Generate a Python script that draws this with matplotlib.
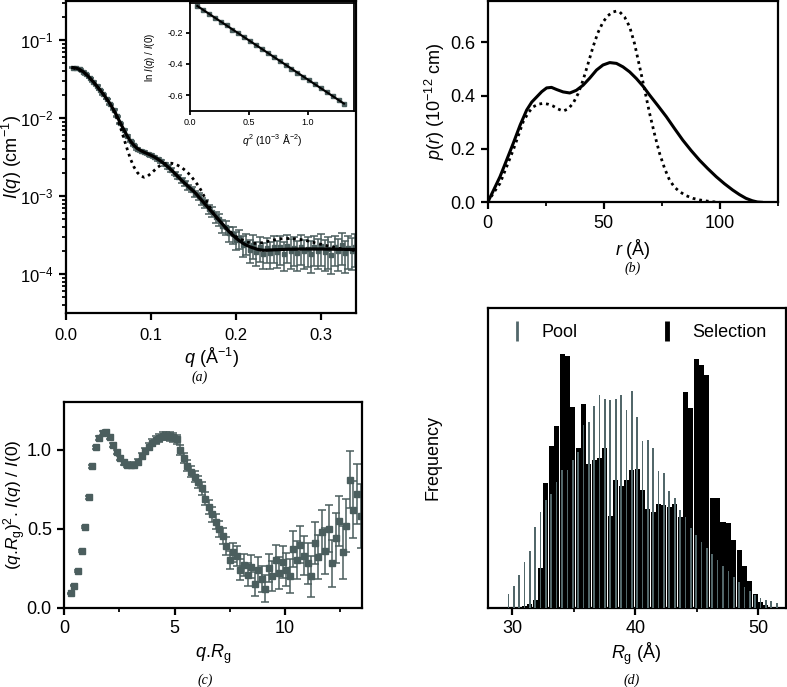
import numpy as np
import matplotlib
matplotlib.use('Agg')
import matplotlib.pyplot as plt
from matplotlib.lines import Line2D
from matplotlib.ticker import FixedLocator, NullLocator, FormatStrFormatter

plt.rcParams['font.family'] = ['Liberation Sans', 'DejaVu Sans']
plt.rcParams['mathtext.fontset'] = 'custom'
plt.rcParams['mathtext.rm'] = 'Liberation Sans'
plt.rcParams['mathtext.it'] = 'Liberation Sans:italic'
plt.rcParams['mathtext.bf'] = 'Liberation Sans:bold'
plt.rcParams['axes.unicode_minus'] = False

GRAY = '#4b5e5e'
GRAY_BAR = '#52676a'

# ---------------- Panel (a): scattering curve ----------------
a_q = [0.008, 0.012, 0.016, 0.020, 0.024, 0.028, 0.032, 0.036, 0.040, 0.044,
       0.048, 0.052, 0.056, 0.060, 0.064, 0.068, 0.072, 0.076, 0.080, 0.084,
       0.088, 0.092, 0.096, 0.100, 0.104, 0.108, 0.112, 0.116, 0.120, 0.124,
       0.128, 0.132, 0.136, 0.140, 0.144, 0.148, 0.152, 0.156, 0.160, 0.164,
       0.168, 0.172, 0.176, 0.180, 0.184, 0.188, 0.192, 0.196, 0.200, 0.204,
       0.208, 0.212, 0.216, 0.220, 0.224, 0.228, 0.232, 0.236, 0.240, 0.244,
       0.248, 0.252, 0.256, 0.260, 0.264, 0.268, 0.272, 0.276, 0.280, 0.284,
       0.288, 0.292, 0.296, 0.300, 0.304, 0.308, 0.312, 0.316, 0.320, 0.324,
       0.328, 0.332, 0.336, 0.340]
a_log10I = [-1.354, -1.362, -1.378, -1.405, -1.442, -1.486, -1.535, -1.587, -1.640, -1.697,
            -1.757, -1.822, -1.896, -1.978, -2.066, -2.150, -2.232, -2.300, -2.352, -2.392,
            -2.418, -2.440, -2.458, -2.478, -2.500, -2.528, -2.557, -2.592, -2.628, -2.668,
            -2.712, -2.752, -2.800, -2.838, -2.885, -2.918, -2.968, -3.005, -3.07, -3.10,
            -3.17, -3.20, -3.27, -3.30, -3.38, -3.40, -3.48, -3.49, -3.56, -3.54,
            -3.63, -3.60, -3.69, -3.63, -3.72, -3.66, -3.74, -3.67, -3.73, -3.65,
            -3.72, -3.66, -3.74, -3.64, -3.70, -3.67, -3.73, -3.65, -3.71, -3.68,
            -3.74, -3.66, -3.70, -3.64, -3.72, -3.68, -3.75, -3.66, -3.71, -3.63,
            -3.73, -3.67, -3.70, -3.65]
a_relerr = [0.01, 0.01, 0.01, 0.01, 0.01, 0.01, 0.01, 0.01, 0.012, 0.012,
            0.013, 0.014, 0.015, 0.016, 0.018, 0.02, 0.022, 0.024, 0.026, 0.028,
            0.03, 0.032, 0.034, 0.036, 0.038, 0.04, 0.042, 0.045, 0.048, 0.05,
            0.055, 0.06, 0.065, 0.07, 0.075, 0.08, 0.09, 0.10, 0.11, 0.12,
            0.13, 0.14, 0.16, 0.17, 0.19, 0.20, 0.22, 0.24, 0.26, 0.28,
            0.30, 0.30, 0.32, 0.33, 0.34, 0.35, 0.36, 0.36, 0.38, 0.38,
            0.38, 0.40, 0.40, 0.40, 0.42, 0.40, 0.42, 0.42, 0.40, 0.42,
            0.44, 0.42, 0.42, 0.44, 0.42, 0.44, 0.44, 0.42, 0.44, 0.45,
            0.44, 0.45, 0.44, 0.45]

fit_q = [0.008, 0.012, 0.016, 0.020, 0.024, 0.028, 0.032, 0.036, 0.040, 0.044,
         0.048, 0.052, 0.056, 0.060, 0.064, 0.068, 0.072, 0.076, 0.080, 0.084,
         0.088, 0.092, 0.096, 0.100, 0.104, 0.108, 0.112, 0.116, 0.120, 0.124,
         0.128, 0.132, 0.136, 0.140, 0.144, 0.148, 0.152, 0.156, 0.160, 0.164,
         0.168, 0.172, 0.176, 0.180, 0.184, 0.188, 0.192, 0.196, 0.200, 0.204,
         0.208, 0.212, 0.216, 0.220, 0.224, 0.228, 0.232, 0.236, 0.240, 0.260,
         0.280, 0.300, 0.320, 0.340]
fit_log10I = [-1.354, -1.360, -1.378, -1.405, -1.442, -1.486, -1.535, -1.587, -1.640, -1.697,
              -1.757, -1.822, -1.896, -1.978, -2.066, -2.150, -2.232, -2.300, -2.352, -2.392,
              -2.418, -2.440, -2.458, -2.478, -2.500, -2.528, -2.557, -2.592, -2.628, -2.668,
              -2.712, -2.755, -2.800, -2.840, -2.880, -2.920, -2.960, -3.010, -3.060, -3.110,
              -3.160, -3.210, -3.260, -3.310, -3.360, -3.410, -3.460, -3.500, -3.540, -3.575,
              -3.605, -3.630, -3.650, -3.665, -3.680, -3.690, -3.695, -3.695, -3.692, -3.683,
              -3.680, -3.680, -3.683, -3.686]

alt_q = [0.008, 0.020, 0.032, 0.044, 0.052, 0.056, 0.060, 0.064, 0.068, 0.072,
         0.076, 0.080, 0.084, 0.088, 0.092, 0.096, 0.100, 0.104, 0.108, 0.112,
         0.116, 0.120, 0.124, 0.128, 0.132, 0.136, 0.140, 0.144, 0.148, 0.152,
         0.156, 0.160, 0.164, 0.168, 0.172, 0.176, 0.180, 0.190, 0.200, 0.210,
         0.220, 0.230, 0.240, 0.250, 0.260, 0.270, 0.280, 0.300, 0.320, 0.340]
alt_log10I = [-1.354, -1.405, -1.535, -1.697, -1.822, -1.900, -2.000, -2.120, -2.260, -2.400,
              -2.530, -2.630, -2.700, -2.745, -2.760, -2.745, -2.710, -2.670, -2.630, -2.600,
              -2.585, -2.580, -2.580, -2.590, -2.610, -2.635, -2.670, -2.710, -2.760, -2.815,
              -2.875, -2.950, -3.040, -3.120, -3.200, -3.270, -3.310, -3.430, -3.520, -3.580,
              -3.610, -3.600, -3.575, -3.550, -3.545, -3.550, -3.565, -3.620, -3.670, -3.700]

# Inset: Guinier plot
g_q2 = [0.062, 0.11, 0.16, 0.21, 0.26, 0.31, 0.36, 0.41, 0.46, 0.51, 0.56, 0.61, 0.66,
        0.71, 0.76, 0.81, 0.86, 0.91, 0.96, 1.01, 1.06, 1.11, 1.16, 1.21, 1.26, 1.305]
g_ln = [-0.031, -0.056, -0.080, -0.105, -0.131, -0.155, -0.181, -0.205, -0.230, -0.256,
        -0.280, -0.305, -0.331, -0.355, -0.380, -0.406, -0.430, -0.455, -0.481, -0.505,
        -0.530, -0.556, -0.580, -0.605, -0.631, -0.653]
g_fit_q2 = [0.062, 1.305]
g_fit_ln = [-0.031, -0.653]

# ---------------- Panel (b): p(r) ----------------
pr_r_solid = [0, 2.5, 5.3, 8, 11, 14, 16.8, 19, 21.1, 23.3, 25.4, 27.5, 29.7, 32.5, 35.4,
              38.2, 41.1, 44, 46.9, 49.7, 52.6, 55.5, 58.3, 61.2, 64.1, 67, 69.8, 73.4,
              77, 80.5, 84.1, 87.7, 91.3, 94.9, 98.5, 102, 105.6, 108.5, 111.3, 114, 116.3, 118]
pr_p_solid = [0, 0.045, 0.096, 0.155, 0.221, 0.290, 0.346, 0.376, 0.395, 0.415, 0.429, 0.431,
              0.423, 0.414, 0.410, 0.420, 0.439, 0.466, 0.496, 0.515, 0.524, 0.521, 0.508,
              0.489, 0.464, 0.435, 0.402, 0.362, 0.321, 0.277, 0.233, 0.194, 0.158, 0.126,
              0.096, 0.070, 0.046, 0.029, 0.015, 0.006, 0.001, 0.0]
pr_r_dot = [0, 2.5, 5.3, 8, 11, 13.2, 15.3, 17.5, 19.6, 21.8, 23.9, 26, 28.2, 30.3, 32.5,
            34.6, 36.8, 39, 41.1, 43.2, 45.4, 47.5, 49.7, 51.8, 54, 55.5, 56.9, 59,
            61.2, 63.3, 65.5, 67.7, 69.8, 72, 74.1, 76.3, 78.4, 80.5, 82.7, 85.5, 88.4,
            91.3, 94.2, 97, 100]
pr_p_dot = [0, 0.035, 0.071, 0.130, 0.196, 0.250, 0.302, 0.336, 0.358, 0.368, 0.371, 0.368,
            0.361, 0.350, 0.342, 0.350, 0.371, 0.408, 0.458, 0.518, 0.583, 0.636, 0.676,
            0.700, 0.714, 0.717, 0.714, 0.695, 0.658, 0.595, 0.508, 0.420, 0.333, 0.253,
            0.183, 0.126, 0.083, 0.057, 0.040, 0.025, 0.015, 0.009, 0.005, 0.002, 0.0]

# ---------------- Panel (c): Kratky plot ----------------
k_x = [0.30, 0.46, 0.62, 0.78, 0.94, 1.10, 1.26, 1.42, 1.58, 1.74,
       1.90, 2.06, 2.22, 2.38, 2.54, 2.70, 2.86, 3.02, 3.18, 3.34,
       3.50, 3.66, 3.82, 3.98, 4.14, 4.30, 4.46, 4.62, 4.78, 4.94,
       5.10, 5.26, 5.42, 5.58, 5.74, 5.90, 6.06, 6.22, 6.38, 6.54,
       6.70, 6.86, 7.02, 7.18, 7.34, 7.50, 7.66, 7.82, 7.98, 8.14,
       8.30, 8.46, 8.62, 8.78, 8.94, 9.10, 9.26, 9.42, 9.58, 9.74,
       9.90, 10.06, 10.22, 10.38, 10.54, 10.70, 10.86, 11.02, 11.18, 11.34,
       11.50, 11.66, 11.82, 11.98, 12.14, 12.30, 12.46, 12.62, 12.78, 12.94,
       13.10, 13.26, 13.42]
k_y = [0.091, 0.14, 0.235, 0.36, 0.51, 0.70, 0.895, 1.015, 1.075, 1.108,
       1.112, 1.08, 1.03, 0.985, 0.948, 0.92, 0.905, 0.902, 0.905, 0.922,
       0.958, 0.99, 1.02, 1.045, 1.062, 1.075, 1.085, 1.088, 1.085, 1.078,
       1.065, 1.00, 0.945, 0.90, 0.86, 0.83, 0.795, 0.755, 0.69, 0.635,
       0.59, 0.545, 0.50, 0.455, 0.39, 0.30, 0.35, 0.33, 0.24, 0.27,
       0.21, 0.26, 0.15, 0.24, 0.18, 0.12, 0.25, 0.20, 0.30, 0.22,
       0.29, 0.24, 0.20, 0.37, 0.30, 0.40, 0.33, 0.28, 0.20, 0.41,
       0.32, 0.48, 0.36, 0.50, 0.28, 0.44, 0.55, 0.35, 0.52, 0.81,
       0.62, 0.72, 0.58]
k_err = [0.005, 0.005, 0.006, 0.007, 0.008, 0.009, 0.01, 0.01, 0.012, 0.012,
         0.013, 0.013, 0.014, 0.014, 0.015, 0.015, 0.016, 0.016, 0.017, 0.018,
         0.019, 0.02, 0.021, 0.022, 0.023, 0.024, 0.025, 0.026, 0.027, 0.028,
         0.03, 0.031, 0.032, 0.034, 0.035, 0.037, 0.038, 0.04, 0.042, 0.044,
         0.046, 0.048, 0.05, 0.052, 0.055, 0.058, 0.06, 0.063, 0.066, 0.07,
         0.072, 0.075, 0.078, 0.08, 0.083, 0.086, 0.09, 0.093, 0.096, 0.10,
         0.10, 0.105, 0.11, 0.115, 0.12, 0.12, 0.125, 0.13, 0.13, 0.135,
         0.14, 0.14, 0.145, 0.15, 0.15, 0.16, 0.16, 0.17, 0.17, 0.18,
         0.18, 0.19, 0.20]

# ---------------- Panel (d): Rg distributions ----------------
rg_bins = [29.68, 30.12, 30.55, 30.99, 31.42, 31.86, 32.30, 32.73, 33.17, 33.60,
           34.04, 34.48, 34.91, 35.35, 35.78, 36.22, 36.66, 37.09, 37.53, 37.96,
           38.40, 38.84, 39.27, 39.71, 40.14, 40.58, 41.02, 41.45, 41.89, 42.32,
           42.76, 43.20, 43.63, 44.07, 44.50, 44.94, 45.38, 45.81, 46.25, 46.68,
           47.12, 47.56, 47.99, 48.43, 48.86, 49.30, 49.74, 50.17, 50.61, 51.04,
           51.48]
pool_freq = [14, 22, 33, 46, 57, 81, 96, 108, 114, 126,
             138, 138, 148, 156, 183, 186, 202, 213, 209, 208,
             209, 213, 198, 217, 191, 167, 168, 160, 137, 135,
             117, 110, 98, 91, 80, 73, 66, 60, 54, 48,
             42, 37, 31, 26, 21, 17, 13, 10, 8, 7,
             5]
selection_freq = [0, 0, 1, 2, 4, 8, 40, 125, 162, 182,
                  254, 252, 201, 160, 204, 144, 148, 150, 160, 92,
                  128, 122, 128, 138, 139, 118, 99, 96, 104, 103,
                  101, 104, 91, 216, 200, 249, 243, 233, 110, 110,
                  86, 85, 68, 58, 42, 27, 14, 6, 3, 1,
                  0]

# ================= Figure =================
W, H = 787, 687
fig = plt.figure(figsize=(W / 100, H / 100), dpi=100)
fig.patch.set_facecolor('white')


def box(l, t, r, b):
    return [l / W, 1 - b / H, (r - l) / W, (b - t) / H]


def style(ax, labelsize=12, lw=1.6):
    for s in ax.spines.values():
        s.set_linewidth(lw)
    ax.tick_params(which='major', direction='out', length=5, width=lw,
                   labelsize=labelsize, pad=4)
    ax.tick_params(which='minor', direction='out', length=3, width=lw * 0.8)


# ---- (a)
axA = fig.add_axes(box(66, 1, 356, 313))
Ia = 10 ** np.array(a_log10I)
axA.errorbar(a_q, Ia, yerr=Ia * np.array(a_relerr), fmt='s', ms=3.2, color=GRAY,
             ecolor=GRAY, elinewidth=1.1, capsize=2.6, capthick=1.1, zorder=2)
axA.plot(fit_q, 10 ** np.array(fit_log10I), color='black', lw=2.3, zorder=4)
axA.plot(alt_q, 10 ** np.array(alt_log10I), color='black', lw=2.0,
         ls=(0, (1, 1.4)), zorder=3)
axA.set_yscale('log')
axA.set_ylim(10 ** -4.5, 10 ** -0.5)
axA.set_xlim(0, 0.341)
axA.xaxis.set_major_locator(FixedLocator([0.0, 0.1, 0.2, 0.3]))
axA.xaxis.set_major_formatter(FormatStrFormatter('%.1f'))
axA.yaxis.set_major_locator(FixedLocator([1e-4, 1e-3, 1e-2, 1e-1]))
style(axA, 12)
axA.tick_params(axis='x', pad=6)
axA.set_ylabel(r'$I$($q$) (cm$^{-1}$)', fontsize=13)
axA.yaxis.set_label_coords(-0.145, 0.5)
axA.set_xlabel(r'$q$ (Å$^{-1}$)', fontsize=13)
axA.xaxis.set_label_coords(0.5, -0.105)

# ---- inset
axI = fig.add_axes(box(190, 3, 354, 111))
axI.plot(g_q2, g_ln, 's', ms=2.6, color=GRAY, zorder=2)
axI.plot(g_fit_q2, g_fit_ln, color='black', lw=1.5, zorder=3)
axI.set_xlim(0, 1.39)
axI.set_ylim(-0.7, -0.012)
axI.xaxis.set_major_locator(FixedLocator([0.0, 0.5, 1.0]))
axI.xaxis.set_major_formatter(FormatStrFormatter('%.1f'))
axI.yaxis.set_major_locator(FixedLocator([-0.6, -0.4, -0.2]))
axI.yaxis.set_major_formatter(FormatStrFormatter('%.1f'))
style(axI, 6.5, lw=1.3)
axI.tick_params(which='major', length=3, pad=2)
axI.set_ylabel(r'ln $I$($q$) / $I$(0)', fontsize=7)
axI.yaxis.set_label_coords(-0.2, 0.5)
axI.set_xlabel(r'$q^2$ (10$^{-3}$ Å$^{-2}$)', fontsize=7.5)
axI.xaxis.set_label_coords(0.5, -0.19)

# ---- (b)
axB = fig.add_axes(box(487.7, 1, 777.7, 202.3))
axB.plot(pr_r_solid, pr_p_solid, color='black', lw=2.2)
axB.plot(pr_r_dot, pr_p_dot, color='black', lw=2.0, ls=(0, (1, 1.4)))
axB.set_xlim(0, 125)
axB.set_ylim(0, 0.755)
axB.xaxis.set_major_locator(FixedLocator([0, 50, 100]))
axB.xaxis.set_minor_locator(FixedLocator([25, 75, 125]))
axB.yaxis.set_major_locator(FixedLocator([0.0, 0.2, 0.4, 0.6]))
axB.yaxis.set_major_formatter(FormatStrFormatter('%.1f'))
style(axB, 13)
axB.set_ylabel(r'$p$($r$) (10$^{-12}$ cm)', fontsize=13)
axB.yaxis.set_label_coords(-0.14, 0.5)
axB.set_xlabel(r'$r$ (Å)', fontsize=13)
axB.xaxis.set_label_coords(0.5, -0.17)

# ---- (c)
axC = fig.add_axes(box(64.3, 402.3, 362.3, 607.7))
axC.errorbar(k_x, k_y, yerr=k_err, fmt='s', ms=4, color=GRAY, ecolor=GRAY,
             elinewidth=1.1, capsize=2.6, capthick=1.1, zorder=2)
axC.set_xlim(0, 13.5)
axC.set_ylim(0, 1.3)
axC.xaxis.set_major_locator(FixedLocator([0, 5, 10]))
axC.xaxis.set_minor_locator(FixedLocator([2.5, 7.5, 12.5]))
axC.yaxis.set_major_locator(FixedLocator([0.0, 0.5, 1.0]))
axC.yaxis.set_major_formatter(FormatStrFormatter('%.1f'))
style(axC, 13)
axC.set_ylabel(r'($q$.$R_{\mathrm{g}}$)$^2$. $I$($q$) / $I$(0)', fontsize=12.5)
axC.yaxis.set_label_coords(-0.122, 0.5)
axC.set_xlabel(r'$q$.$R_{\mathrm{g}}$', fontsize=13)
axC.xaxis.set_label_coords(0.5, -0.17)

# ---- (d)
axD = fig.add_axes(box(487.7, 308, 785.5, 607.7))
axD.bar(rg_bins, selection_freq, width=0.41, color='black', zorder=2)
axD.bar(rg_bins, pool_freq, width=0.14, color=GRAY_BAR, zorder=3)
axD.set_xlim(28, 52.2)
axD.set_ylim(0, 300)
axD.xaxis.set_major_locator(FixedLocator([30, 40, 50]))
axD.xaxis.set_minor_locator(FixedLocator([35, 45]))
axD.yaxis.set_major_locator(NullLocator())
style(axD, 13)
axD.set_ylabel('Frequency', fontsize=13)
axD.yaxis.set_label_coords(-0.155, 0.5)
axD.set_xlabel(r'$R_{\mathrm{g}}$ (Å)', fontsize=13)
axD.xaxis.set_label_coords(0.5, -0.11)
handles = [Line2D([0], [0], marker='|', color=GRAY_BAR, ls='none', ms=14, mew=2),
           Line2D([0], [0], marker='|', color='black', ls='none', ms=14, mew=3.5)]
axD.legend(handles, ['Pool', 'Selection'], ncol=2, loc='upper left',
           bbox_to_anchor=(0.0, 1.0), frameon=False, fontsize=13,
           columnspacing=4.2, handletextpad=0.6, handlelength=1.5)

# ---- captions
cap = dict(family='Liberation Serif', style='italic', fontsize=10,
           ha='center', va='center')
fig.text(200 / W, 1 - 377 / H, '(a)', **cap)
fig.text(633 / W, 1 - 268 / H, '(b)', **cap)
fig.text(205 / W, 1 - 680 / H, '(c)', **cap)
fig.text(632 / W, 1 - 680 / H, '(d)', **cap)

fig.savefig('out.png', dpi=100, facecolor='white')
